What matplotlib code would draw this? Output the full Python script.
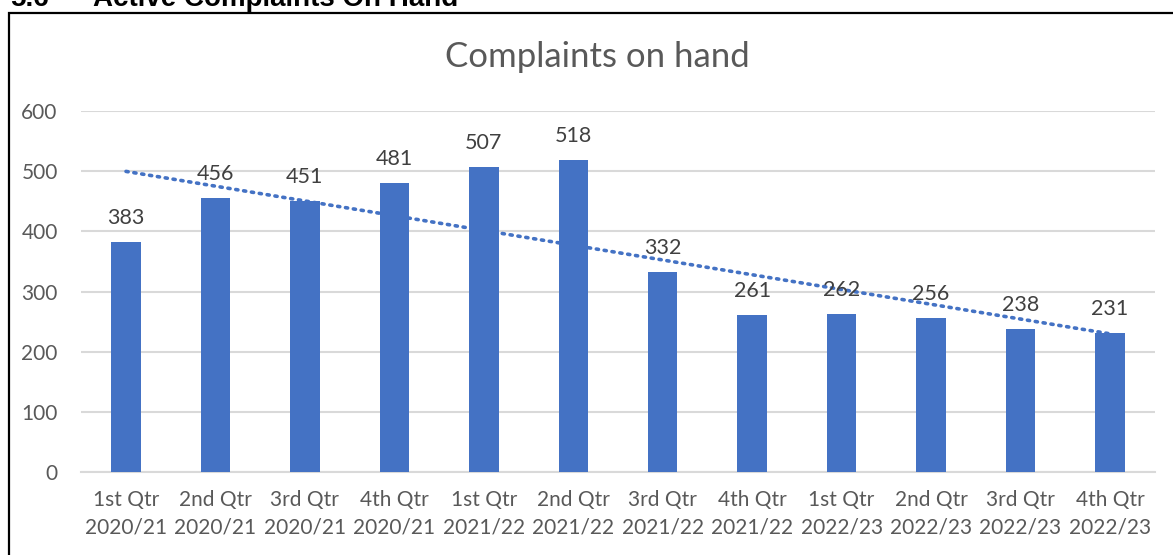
import numpy as np
import matplotlib.pyplot as plt
from matplotlib.patches import Rectangle

quarters = ['1st Qtr', '2nd Qtr', '3rd Qtr', '4th Qtr'] * 3
years = ['2020/21'] * 4 + ['2021/22'] * 4 + ['2022/23'] * 4
complaints = [383, 456, 451, 481, 507, 518, 332, 261, 262, 256, 238, 231]

labels = [q + '\n' + y for q, y in zip(quarters, years)]
bar_col = '#4472C4'
font = ['Lato', 'DejaVu Sans']

plt.rcParams['font.family'] = font

fig = plt.figure(figsize=(11.73, 5.55), dpi=100)
ax = fig.add_axes([0.0693, 0.1495, 0.9151, 0.6505])

x = np.arange(len(complaints))
bars = ax.bar(x, complaints, width=0.33, color=bar_col, zorder=3)

# linear trendline, as excel does it
k, b = np.polyfit(x, complaints, 1)
ax.plot(x, k * x + b, linestyle=(0, (0.6, 1.6)), color=bar_col, lw=2.6,
        dash_capstyle='round', zorder=4)

for xi, v in zip(x, complaints):
    ax.annotate(str(v), (xi, v), xytext=(0, 10), textcoords='offset points',
                ha='center', va='bottom', fontsize=15.5, color='#404040', zorder=5)

ax.set_xlim(-0.5, len(complaints) - 0.5)
ax.set_ylim(0, 600)
ax.set_yticks(range(0, 601, 100))
ax.set_xticks(x)
ax.set_xticklabels(labels, linespacing=1.45)
ax.yaxis.grid(True, color='#D9D9D9', lw=1.5, zorder=0)
for s in ['top', 'right', 'left']:
    ax.spines[s].set_visible(False)
ax.spines['bottom'].set_color('#D9D9D9')
ax.spines['bottom'].set_linewidth(1.5)
ax.tick_params(axis='both', length=0, labelsize=15, colors='#595959')
ax.tick_params(axis='y', pad=17)
ax.tick_params(axis='x', pad=13)

fig.text(0.509, 0.897, 'Complaints on hand', ha='center', va='center',
         fontsize=25, color='#595959')

# chart frame and the section heading cut off above it
fig.patches.append(Rectangle((8.5 / 1173, -0.1), 1.2, 1.1 - 13 / 555,
                             transform=fig.transFigure, fill=False,
                             edgecolor='black', lw=1.6))
fig.text(10 / 1173, 1 - 6 / 555, '5.6', fontsize=20, fontweight='bold',
         family='Liberation Sans', va='baseline')
fig.text(93 / 1173, 1 - 6 / 555, 'Active Complaints On Hand', fontsize=20,
         fontweight='bold', family='Liberation Sans', va='baseline')

fig.savefig('out.png', dpi=100)
